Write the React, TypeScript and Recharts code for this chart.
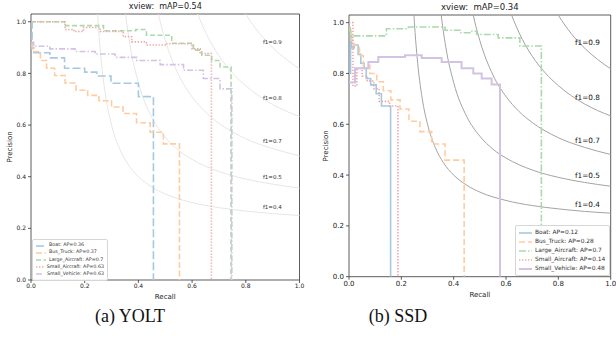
import React from "react";
import {
  LineChart,
  Line,
  XAxis,
  YAxis,
  ReferenceArea,
  ReferenceDot,
  Legend,
} from "recharts";

type Pt = { r: number; p: number };

const X_TICKS = [0, 0.2, 0.4, 0.6, 0.8, 1.0];
const Y_TICKS = [0, 0.2, 0.4, 0.6, 0.8, 1.0];
const Y_TOP = 1.03;

// iso-f1 guide curves (recall, precision)
const ISO_040: Pt[] = [
  { r: 0.24, p: 1.2 }, { r: 0.25, p: 1.0 }, { r: 0.26, p: 0.867 }, { r: 0.28, p: 0.7 },
  { r: 0.3, p: 0.6 }, { r: 0.33, p: 0.508 }, { r: 0.36, p: 0.45 }, { r: 0.4, p: 0.4 },
  { r: 0.45, p: 0.36 }, { r: 0.5, p: 0.333 }, { r: 0.6, p: 0.3 }, { r: 0.7, p: 0.28 },
  { r: 0.8, p: 0.267 }, { r: 0.9, p: 0.257 }, { r: 1.0, p: 0.25 },
];
const ISO_0525: Pt[] = [
  { r: 0.31, p: 1.713 }, { r: 0.33, p: 1.283 }, { r: 0.34, p: 1.152 }, { r: 0.35, p: 1.05 },
  { r: 0.37, p: 0.903 }, { r: 0.4, p: 0.764 }, { r: 0.45, p: 0.63 }, { r: 0.5, p: 0.553 },
  { r: 0.55, p: 0.502 }, { r: 0.6, p: 0.467 }, { r: 0.7, p: 0.42 }, { r: 0.8, p: 0.391 },
  { r: 0.9, p: 0.371 }, { r: 1.0, p: 0.356 },
];
const ISO_065: Pt[] = [
  { r: 0.43, p: 1.331 }, { r: 0.46, p: 1.107 }, { r: 0.48, p: 1.006 }, { r: 0.5, p: 0.929 },
  { r: 0.55, p: 0.794 }, { r: 0.6, p: 0.709 }, { r: 0.65, p: 0.65 }, { r: 0.7, p: 0.607 },
  { r: 0.8, p: 0.547 }, { r: 0.9, p: 0.509 }, { r: 1.0, p: 0.481 },
];
const ISO_0775: Pt[] = [
  { r: 0.55, p: 1.312 }, { r: 0.6, p: 1.094 }, { r: 0.63, p: 1.007 }, { r: 0.65, p: 0.96 },
  { r: 0.7, p: 0.868 }, { r: 0.75, p: 0.802 }, { r: 0.8, p: 0.752 }, { r: 0.85, p: 0.712 },
  { r: 0.9, p: 0.68 }, { r: 0.95, p: 0.654 }, { r: 1.0, p: 0.633 },
];
const ISO_090: Pt[] = [
  { r: 0.75, p: 1.125 }, { r: 0.78, p: 1.064 }, { r: 0.8, p: 1.029 }, { r: 0.85, p: 0.956 },
  { r: 0.9, p: 0.9 }, { r: 0.95, p: 0.855 }, { r: 1.0, p: 0.818 },
];
const ISO_CURVES = [ISO_040, ISO_0525, ISO_065, ISO_0775, ISO_090];

const F1_LABELS = ["f1=0.9", "f1=0.8", "f1=0.7", "f1=0.5", "f1=0.4"];
const F1_LABEL_Y = [0.922, 0.706, 0.538, 0.4, 0.284];
const F1_LABEL_X = 0.86;

const CLASS_NAMES = ["Boat", "Bus_Truck", "Large_Aircraft", "Small_Aircraft", "Small_Vehicle"];
const CLASS_COLORS = ["#a5c9e1", "#ffcc9f", "#abd9ab", "#efa9a9", "#d4c2e5"];

// (a) YOLT
const YOLT_AP = ["0.36", "0.37", "0.7", "0.63", "0.63"];
const YOLT_BOAT: Pt[] = [
  { r: 0, p: 1.0 }, { r: 0.004, p: 0.9 }, { r: 0.01, p: 0.88 }, { r: 0.07, p: 0.86 },
  { r: 0.125, p: 0.82 }, { r: 0.2, p: 0.805 }, { r: 0.245, p: 0.79 }, { r: 0.298, p: 0.762 },
  { r: 0.4, p: 0.71 }, { r: 0.456, p: 0 },
];
const YOLT_BUS: Pt[] = [
  { r: 0, p: 0.91 }, { r: 0.005, p: 0.885 }, { r: 0.035, p: 0.85 }, { r: 0.058, p: 0.82 },
  { r: 0.088, p: 0.792 }, { r: 0.127, p: 0.763 }, { r: 0.168, p: 0.735 }, { r: 0.211, p: 0.715 },
  { r: 0.253, p: 0.694 }, { r: 0.3, p: 0.67 }, { r: 0.343, p: 0.645 }, { r: 0.393, p: 0.609 },
  { r: 0.444, p: 0.572 }, { r: 0.493, p: 0.527 }, { r: 0.553, p: 0 },
];
const YOLT_LARGE: Pt[] = [
  { r: 0, p: 1.0 }, { r: 0.125, p: 0.985 }, { r: 0.27, p: 0.965 }, { r: 0.39, p: 0.97 },
  { r: 0.43, p: 0.948 }, { r: 0.524, p: 0.917 }, { r: 0.605, p: 0.89 }, { r: 0.636, p: 0.87 },
  { r: 0.673, p: 0.85 }, { r: 0.704, p: 0.825 }, { r: 0.745, p: 0 },
];
const YOLT_SMALL_AIR: Pt[] = [
  { r: 0, p: 1.0 }, { r: 0.127, p: 0.97 }, { r: 0.16, p: 0.962 }, { r: 0.195, p: 0.978 },
  { r: 0.257, p: 0.962 }, { r: 0.344, p: 0.942 }, { r: 0.375, p: 0.922 }, { r: 0.43, p: 0.91 },
  { r: 0.5, p: 0.915 }, { r: 0.6, p: 0.895 }, { r: 0.63, p: 0.877 }, { r: 0.672, p: 0 },
];
const YOLT_SMALL_VEH: Pt[] = [
  { r: 0, p: 0.92 }, { r: 0.01, p: 0.905 }, { r: 0.07, p: 0.895 }, { r: 0.164, p: 0.885 },
  { r: 0.239, p: 0.875 }, { r: 0.313, p: 0.862 }, { r: 0.394, p: 0.85 }, { r: 0.481, p: 0.834 },
  { r: 0.568, p: 0.812 }, { r: 0.642, p: 0.78 }, { r: 0.704, p: 0.74 }, { r: 0.748, p: 0 },
];

// (b) SSD
const SSD_AP = ["0.12", "0.28", "0.7", "0.14", "0.48"];
const SSD_BOAT: Pt[] = [
  { r: 0, p: 0.8 }, { r: 0.006, p: 0.95 }, { r: 0.01, p: 0.9 }, { r: 0.02, p: 0.912 },
  { r: 0.035, p: 0.875 }, { r: 0.045, p: 0.84 }, { r: 0.058, p: 0.82 }, { r: 0.066, p: 0.78 },
  { r: 0.083, p: 0.755 }, { r: 0.104, p: 0.72 }, { r: 0.124, p: 0.672 }, { r: 0.159, p: 0 },
];
const SSD_BUS: Pt[] = [
  { r: 0, p: 0.97 }, { r: 0.008, p: 0.93 }, { r: 0.02, p: 0.91 }, { r: 0.04, p: 0.87 },
  { r: 0.055, p: 0.832 }, { r: 0.08, p: 0.8 }, { r: 0.106, p: 0.767 }, { r: 0.131, p: 0.732 },
  { r: 0.16, p: 0.696 }, { r: 0.195, p: 0.66 }, { r: 0.229, p: 0.612 }, { r: 0.271, p: 0.571 },
  { r: 0.316, p: 0.522 }, { r: 0.367, p: 0.459 }, { r: 0.44, p: 0 },
];
const SSD_LARGE: Pt[] = [
  { r: 0, p: 0.98 }, { r: 0.005, p: 0.948 }, { r: 0.143, p: 0.976 }, { r: 0.227, p: 0.983 },
  { r: 0.367, p: 0.97 }, { r: 0.424, p: 0.96 }, { r: 0.462, p: 0.966 }, { r: 0.488, p: 0.953 },
  { r: 0.57, p: 0.94 }, { r: 0.653, p: 0.908 }, { r: 0.735, p: 0 },
];
const SSD_SMALL_AIR: Pt[] = [
  { r: 0, p: 1.0 }, { r: 0.015, p: 0.75 }, { r: 0.03, p: 0.82 }, { r: 0.05, p: 0.79 },
  { r: 0.07, p: 0.77 }, { r: 0.095, p: 0.74 }, { r: 0.115, p: 0.69 }, { r: 0.155, p: 0.672 },
  { r: 0.187, p: 0 },
];
const SSD_SMALL_VEH: Pt[] = [
  { r: 0, p: 0.764 }, { r: 0.023, p: 0.82 }, { r: 0.074, p: 0.845 }, { r: 0.112, p: 0.865 },
  { r: 0.214, p: 0.872 }, { r: 0.278, p: 0.861 }, { r: 0.354, p: 0.845 }, { r: 0.43, p: 0.82 },
  { r: 0.475, p: 0.8 }, { r: 0.507, p: 0.78 }, { r: 0.545, p: 0.756 }, { r: 0.577, p: 0 },
];

const FONT = "'DejaVu Sans', sans-serif";

type Series = { name: string; ap: string; color: string; dash?: string; width: number; data: Pt[] };

const YOLT_DASH = ["8 3", "6 2.5", "5 2.5", "1.4 1.6", "6 2 1.5 2"];
const SSD_DASH = [undefined, "6 3", "7 2 1.5 2", "1.4 1.6", undefined];

const yoltData = [YOLT_BOAT, YOLT_BUS, YOLT_LARGE, YOLT_SMALL_AIR, YOLT_SMALL_VEH];
const ssdData = [SSD_BOAT, SSD_BUS, SSD_LARGE, SSD_SMALL_AIR, SSD_SMALL_VEH];

const yoltSeries: Series[] = CLASS_NAMES.map((n, i) => ({
  name: n, ap: YOLT_AP[i], color: CLASS_COLORS[i], dash: YOLT_DASH[i], width: 1.6, data: yoltData[i],
}));
const ssdSeries: Series[] = CLASS_NAMES.map((n, i) => ({
  name: n, ap: SSD_AP[i], color: CLASS_COLORS[i], dash: SSD_DASH[i], width: i === 4 ? 2 : 1.6, data: ssdData[i],
}));

function PRLegend({ series, fontSize, rowH, handleW }: any) {
  return (
    <div
      style={{
        background: "rgba(255,255,255,0.85)",
        border: "1px solid #d6d6d6",
        borderRadius: 2,
        padding: "2px 3px",
        fontFamily: FONT,
        fontSize,
        color: "#333",
        lineHeight: 1,
        boxSizing: "border-box",
      }}
    >
      {series.map((s: Series) => (
        <div key={s.name} style={{ display: "flex", alignItems: "center", height: rowH, whiteSpace: "nowrap" }}>
          <svg width={handleW} height={4} style={{ display: "block" }}>
            <line x1={0} y1={2} x2={handleW} y2={2} stroke={s.color} strokeWidth={s.width} strokeDasharray={s.dash} />
          </svg>
          <span style={{ marginLeft: 3 }}>
            {s.name}: AP={s.ap}
          </span>
        </div>
      ))}
    </div>
  );
}

function PRPanel({ title, series, isoColor, f1Color, geo, fs, legend }: any) {
  return (
    <div style={{ position: "absolute", left: geo.left, top: 0 }}>
      <LineChart width={308} height={300} margin={geo.margin}>
        <XAxis
          type="number"
          dataKey="r"
          domain={[0, 1]}
          ticks={X_TICKS}
          tickFormatter={(v: number) => v.toFixed(1)}
          height={geo.xAxisH}
          axisLine={false}
          tickLine={{ stroke: "#333", strokeWidth: 0.8 }}
          tickSize={3}
          tickMargin={1}
          tick={{ fontSize: fs.tick, fill: "#222", fontFamily: FONT }}
          label={{ value: "Recall", position: "insideBottom", offset: geo.recallOffset, fontSize: fs.label, fill: "#222", fontFamily: FONT }}
        />
        <YAxis
          type="number"
          dataKey="p"
          domain={[0, Y_TOP]}
          allowDataOverflow
          ticks={Y_TICKS}
          tickFormatter={(v: number) => v.toFixed(1)}
          width={geo.yAxisW}
          axisLine={false}
          tickLine={{ stroke: "#333", strokeWidth: 0.8 }}
          tickSize={3}
          tickMargin={2}
          tick={{ fontSize: fs.tick, fill: "#222", fontFamily: FONT }}
          label={{
            value: "Precision",
            angle: -90,
            position: "insideLeft",
            offset: geo.precisionOffset,
            fontSize: fs.label,
            fill: "#222",
            fontFamily: FONT,
            style: { textAnchor: "middle" },
          }}
        />
        {ISO_CURVES.map((c, i) => (
          <Line
            key={"iso" + i}
            data={c}
            dataKey="p"
            type="monotone"
            stroke={isoColor}
            strokeWidth={1}
            dot={false}
            activeDot={false}
            legendType="none"
            isAnimationActive={false}
          />
        ))}
        {series.map((s: Series) => (
          <Line
            key={s.name}
            name={s.name}
            data={s.data}
            dataKey="p"
            type="stepAfter"
            stroke={s.color}
            strokeWidth={s.width}
            strokeDasharray={s.dash}
            dot={false}
            activeDot={false}
            isAnimationActive={false}
          />
        ))}
        {F1_LABELS.map((t, i) => (
          <ReferenceDot
            key={t}
            x={F1_LABEL_X}
            y={F1_LABEL_Y[i]}
            r={1}
            fill="none"
            stroke="none"
            label={{ value: t, position: "right", offset: 0, fontSize: fs.f1, fill: f1Color, fontFamily: FONT }}
          />
        ))}
        <ReferenceArea
          x1={0}
          x2={1}
          y1={0}
          y2={Y_TOP}
          fill="none"
          fillOpacity={0}
          stroke="#333"
          strokeWidth={0.8}
          label={{ value: title, position: "top", offset: geo.titleOffset, fontSize: fs.title, fill: "#222", fontFamily: FONT }}
        />
        <Legend
          layout="horizontal"
          verticalAlign="middle"
          align="center"
          wrapperStyle={{ left: legend.left, top: legend.top, width: legend.width, height: "auto" }}
          content={() => (
            <PRLegend series={series} fontSize={legend.fontSize} rowH={legend.rowH} handleW={legend.handleW} />
          )}
        />
      </LineChart>
    </div>
  );
}

const captionStyle: React.CSSProperties = {
  position: "absolute",
  top: 306,
  width: 120,
  textAlign: "center",
  fontFamily: "'Liberation Serif', serif",
  fontSize: 18,
  color: "#111",
};

export default function App() {
  return (
    <div
      style={{
        position: "absolute",
        left: 0,
        top: 0,
        width: 616,
        height: 352,
        background: "#fff",
        overflow: "hidden",
      }}
    >
      <PRPanel
        title={"xview:\u00a0 mAP=0.54"}
        series={yoltSeries}
        isoColor="#e6e6e6"
        f1Color="#333"
        geo={{
          left: 0,
          margin: { top: 14, right: 8.5, bottom: 0, left: 0 },
          xAxisH: 20,
          yAxisW: 31,
          recallOffset: 1.5,
          precisionOffset: 10,
          titleOffset: 5,
        }}
        fs={{ tick: 6, label: 7, title: 8, f1: 5.5 }}
        legend={{ left: 32, top: 239, width: 76, fontSize: 4.8, rowH: 7.2, handleW: 10 }}
      />
      <PRPanel
        title={"xview:\u00a0 mAP=0.34"}
        series={ssdSeries}
        isoColor="#a3a3a3"
        f1Color="#111"
        geo={{
          left: 308,
          margin: { top: 15, right: 5.3, bottom: 0, left: 0 },
          xAxisH: 23.3,
          yAxisW: 41,
          recallOffset: 3,
          precisionOffset: 18,
          titleOffset: 5.5,
        }}
        fs={{ tick: 7, label: 7, title: 8.5, f1: 7.3 }}
        legend={{ left: 207, top: 225, width: 95, fontSize: 5.9, rowH: 9.1, handleW: 13 }}
      />
      <div style={{ ...captionStyle, left: 70 }}>(a) YOLT</div>
      <div style={{ ...captionStyle, left: 338 }}>(b) SSD</div>
    </div>
  );
}
